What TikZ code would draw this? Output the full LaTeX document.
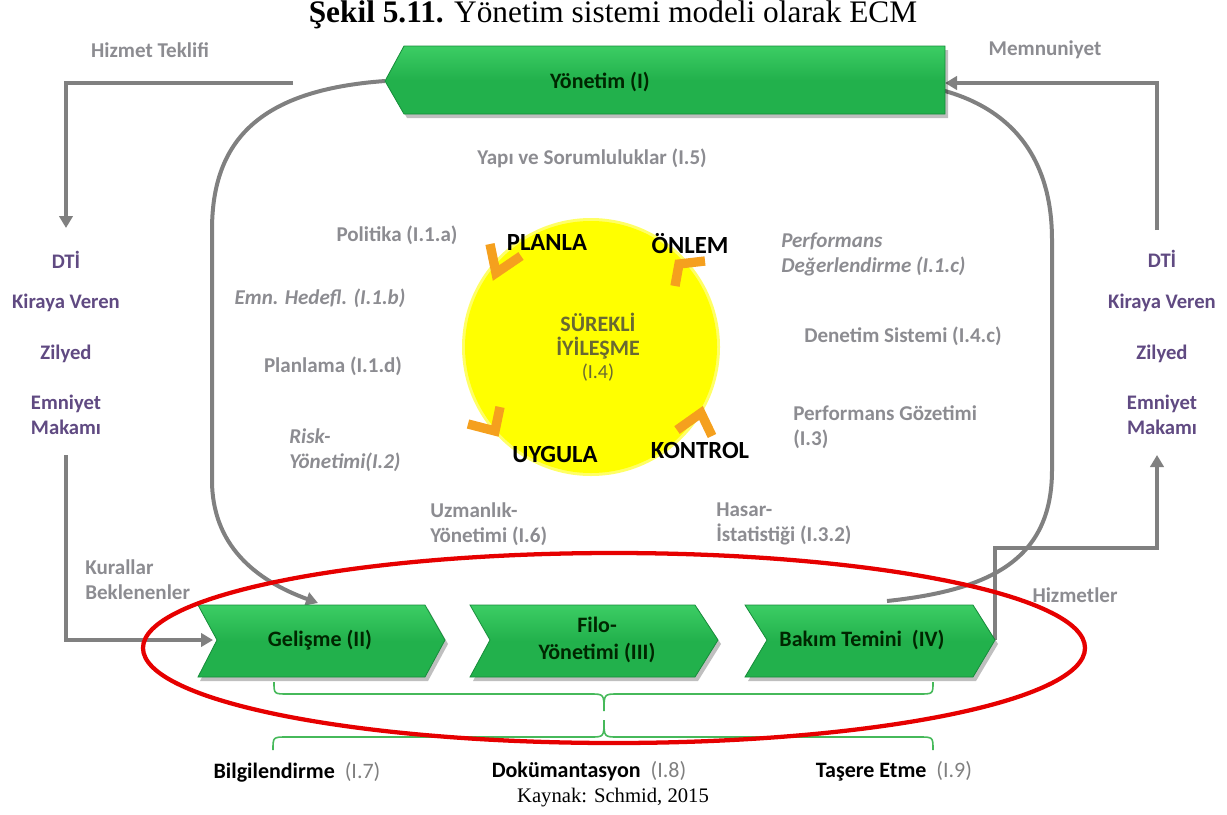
\documentclass[tikz,border=0pt]{standalone}
\usepackage{fontspec}
\setmainfont{Liberation Serif}
\newfontfamily\calfnt{Carlito}
\usetikzlibrary{arrows.meta,calc}
\definecolor{grn}{RGB}{34,177,76}
\definecolor{grnlt}{RGB}{60,205,100}
\definecolor{grndk}{RGB}{22,140,58}
\definecolor{gry}{RGB}{128,128,128}
\definecolor{lbl}{RGB}{140,140,145}
\definecolor{purp}{RGB}{96,74,130}
\definecolor{ylw}{RGB}{255,255,0}
\definecolor{org}{RGB}{245,160,30}
\definecolor{olv}{RGB}{105,105,50}
\definecolor{brc}{RGB}{70,185,90}
\definecolor{redl}{RGB}{230,0,0}
\begin{document}
\begin{tikzpicture}[x=0.75pt,y=-0.75pt,
  lab/.style={font=\calfnt\bfseries\fontsize{15.8}{18.75}\selectfont, text=lbl, align=left, inner sep=0pt},
  ilab/.style={lab, font=\calfnt\bfseries\itshape\fontsize{15.8}{18.75}\selectfont},
  plab/.style={font=\calfnt\bfseries\fontsize{15.5}{18.75}\selectfont, text=purp, align=center, inner sep=0pt},
  cyc/.style={font=\calfnt\bfseries\fontsize{18.5}{20}\selectfont, text=black, inner sep=0pt},
  chtext/.style={font=\calfnt\bfseries\fontsize{16.5}{20}\selectfont, text=black!85!green, align=center, inner sep=0pt},
  gline/.style={draw=gry, line width=3pt},
  garrow/.style={gline, -{Triangle[length=9pt,width=10pt]}},
  shapefill/.style={top color=grnlt, bottom color=grn, middle color=grn, draw=grndk, line width=0.6pt},
  shadowfill/.style={fill=black, opacity=0.25},
  chev/.style={draw=org, line width=7pt, line join=miter},
  brace/.style={draw=brc, line width=1.2pt},
  bot/.style={font=\calfnt\bfseries\fontsize{16.5}{18}\selectfont, inner sep=0pt}
]
\useasboundingbox (0,0) rectangle (1227,814);

% title
\node[font=\fontsize{23.5}{26}\selectfont, inner sep=0pt] (title) at (613,15) {\textbf{Şekil 5.11.} Yönetim sistemi modeli olarak ECM};

% yellow circle
\fill[ylw!60!white] (591,347) circle (129);
\node[circle, fill=ylw, minimum size=252*0.75pt, inner sep=0pt] (cyc) at (591,347) {};
\node[font=\calfnt\bfseries\fontsize{16.5}{17.5}\selectfont, text=olv, align=center, inner sep=0pt] (sur) at (598,336) {SÜREKLİ\\İYİLEŞME};
\node[font=\calfnt\fontsize{15}{17}\selectfont, text=olv, inner sep=0pt] (i4) at (598,373) {(I.4)};
\node[cyc] (plan) at (547,242) {PLANLA};
\node[cyc] (onlem) at (690,244) {ÖNLEM};
\node[cyc] (uyg) at (555,454) {UYGULA};
\node[cyc] (kont) at (700,450) {KONTROL};
\draw[chev] (490,244) -- (496,273) -- (521,256);
\draw[chev] (705,261) -- (679,264) -- (675,286);
\draw[chev] (468,424) -- (495,431) -- (500,407);
\draw[chev] (677,430) -- (701,413) -- (712,436);

% coordinates for connectors
\coordinate (yl) at (385,81);
\coordinate (yr) at (945,83);
\coordinate (htstart) at (293,83);
\coordinate (htend) at (66,228);
\coordinate (mnstart) at (1157,230);
\coordinate (kbstart) at (66,455);
\coordinate (hzend) at (1157,455);
\coordinate (geltop) at (318,603);
\coordinate (bakimtop) at (887,601);
\coordinate (gelleft) at (213,640);
\coordinate (bakimright) at (995,640);

% big curved arrows
\draw[garrow] (yl) .. controls (260,90) and (212,140) .. (212,230) -- (212,480) .. controls (212,545) and (255,580) .. (geltop);
\draw[gline] (bakimtop) .. controls (990,590) and (1052,560) .. (1052,470) -- (1052,240) .. controls (1052,130) and (980,90) .. (900,83);

% straight arrows
\draw[garrow] (htstart) -- (66,83) -- (htend);
\draw[garrow] (mnstart) -- (1157,83) -- (yr);
\draw[garrow] (kbstart) -- (66,640) -- (gelleft);
\draw[garrow] (bakimright) -- (995,548) -- (1157,548) -- (hzend);

% top shape
\fill[shadowfill] (388,85) -- (407,50) -- (948,50) -- (948,118) -- (407,118) -- cycle;
\path[shapefill] (385,81) -- (404,46) -- (945,46) -- (945,114) -- (404,114) -- cycle;
\node[chtext] (yon) at (600,82) {Yönetim (I)};

% bottom chevrons
\fill[shadowfill] (200,609) -- (428,609) -- (448,644) -- (428,681) -- (200,681) -- (220,644) -- cycle;
\path[shapefill] (198,605) -- (425,605) -- (445,640) -- (425,677) -- (198,677) -- (217,640) -- cycle;
\node[chtext] (gel) at (320,640) {Gelişme (II)};
\fill[shadowfill] (473,609) -- (698,609) -- (721,644) -- (698,681) -- (473,681) -- (493,644) -- cycle;
\path[shapefill] (470,605) -- (695,605) -- (718,640) -- (695,677) -- (470,677) -- (490,640) -- cycle;
\node[chtext] (filo) at (597,640) {Filo-\\Yönetimi (III)};
\fill[shadowfill] (748,609) -- (976,609) -- (998,644) -- (976,681) -- (748,681) -- (770,644) -- cycle;
\path[shapefill] (745,605) -- (973,605) -- (995,640) -- (973,677) -- (745,677) -- (767,640) -- cycle;
\node[chtext] (bak) at (862,640) {Bakım Temini~~(IV)};

% braces
\draw[brace] (274,682) .. controls (274,694) .. (288,694) -- (590,694) .. controls (604,694) .. (604,711) .. controls (604,694) .. (618,694) -- (919,694) .. controls (933,694) .. (933,682);
\draw[brace] (273,750) .. controls (273,737) .. (287,737) -- (590,737) .. controls (604,737) .. (604,720) .. controls (604,737) .. (618,737) -- (919,737) .. controls (933,737) .. (933,750);

% red ellipse
\draw[redl, line width=3.2pt] (614,648) ellipse [x radius=471, y radius=95];

% grey labels
\node[lab] (ht) at (150,50) {Hizmet Teklifi};
\node[lab] (mn) at (1045,50) {Memnuniyet};
\node[lab] (yapi) at (592,158) {Yapı ve Sorumluluklar (I.5)};
\node[lab] (pol) at (397,235) {Politika (I.1.a)};
\node[ilab] (emn) at (320,298) {Emn. Hedefl. (I.1.b)};
\node[lab] (planl) at (333,366) {Planlama (I.1.d)};
\node[ilab, anchor=west] (risk) at (289,450) {Risk-\\Yönetimi(I.2)};
\node[lab, anchor=west] (uzm) at (430,524) {Uzmanlık-\\Yönetimi (I.6)};
\node[lab, anchor=west] (has) at (716,524) {Hasar-\\İstatistiği (I.3.2)};
\node[ilab, anchor=west] (perf) at (781,254) {Performans\\Değerlendirme (I.1.c)};
\node[lab] (den) at (903,336) {Denetim Sistemi (I.4.c)};
\node[lab, anchor=west] (goz) at (793,427) {Performans Gözetimi\\(I.3)};
\node[lab, anchor=west] (kur) at (85,580) {Kurallar\\Beklenenler};
\node[lab] (hiz) at (1075,595) {Hizmetler};

% purple labels
\node[plab] (dti1) at (66,260) {DTİ};
\node[plab] (kv1) at (66,303) {Kiraya Veren};
\node[plab] (zil1) at (66,354) {Zilyed};
\node[plab] (em1) at (66,415) {Emniyet\\Makamı};
\node[plab] (dti2) at (1162,259) {DTİ};
\node[plab] (kv2) at (1162,303) {Kiraya Veren};
\node[plab] (zil2) at (1162,354) {Zilyed};
\node[plab] (em2) at (1162,415) {Emniyet\\Makamı};

% bottom labels
\node[bot] (bil) at (297,772) {Bilgilendirme~~{\mdseries\color{gry}(I.7)}};
\node[bot] (dok) at (589,771) {Dokümantasyon~~{\mdseries\color{gry}(I.8)}};
\node[bot] (tas) at (894,771) {Taşere Etme~~{\mdseries\color{gry}(I.9)}};

\node[font=\fontsize{15.5}{18}\selectfont, inner sep=0pt] (kay) at (613,798) {Kaynak: Schmid, 2015};
\end{tikzpicture}
\end{document}
